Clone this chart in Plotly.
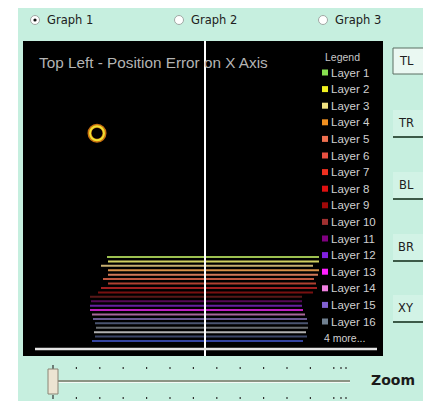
import plotly.graph_objects as go

# ---------------- data ----------------
layer_names = [f"Layer {i}" for i in range(1, 17)]
legend_colors = ["#88e050", "#f0f020", "#f0e080", "#f09020", "#f07050", "#e85040",
                 "#f03020", "#e01010", "#a00808", "#a03030", "#800080", "#8020e0",
                 "#ff20ff", "#f080e0", "#8060d0", "#708090"]
more_label = "4 more..."

# 20 layers: horizontal extent of the X position error per layer
layer_index = list(range(1, 21))
err_start = [-0.98, -0.97, -1.04, -0.97, -0.97, -1.02, -0.97, -1.04, -1.07, -1.15,
             -1.14, -1.15, -1.15, -1.13, -1.12, -1.10, -1.09, -1.11, -1.10, -1.13]
err_end = [1.14, 1.14, 1.08, 1.14, 1.13, 1.09, 1.11, 1.12, 1.08, 0.97,
           0.97, 0.97, 0.98, 1.00, 1.02, 1.03, 1.03, 1.01, 1.02, 0.98]
line_colors = ["#9cc050", "#d0d060", "#c8b070", "#d89048", "#d07858", "#c05840",
               "#b04030", "#a02020", "#781010", "#581818", "#560856", "#6620a0",
               "#c020c0", "#a86898", "#685890", "#4a5470", "#686c70", "#b0b0b0",
               "#3c4668", "#3444a0"]

marker_x = [-1.08]
marker_y = [-27.0]

title_text = "Top Left - Position Error on X Axis"
radio_labels = ["Graph 1", "Graph 2", "Graph 3"]
button_labels = ["TL", "TR", "BL", "BR", "XY"]
zoom_label = "Zoom"

# ---------------- geometry (page pixels) ----------------
W, H = 423, 401
L, R, T, B = 23, 383, 41, 356


def fx(p):
    return (p - L) / (R - L)


def fy(p):
    return (B - p) / (B - T)


fig = go.Figure()

for i, (y, a, b, c) in enumerate(zip(layer_index, err_start, err_end, line_colors)):
    fig.add_trace(go.Scatter(x=[a, b], y=[y, y], mode="lines",
                             line=dict(color=c, width=2), showlegend=False,
                             hoverinfo="skip"))

fig.add_trace(go.Scatter(x=marker_x, y=marker_y, mode="markers",
                         marker=dict(symbol="circle-open", size=15, color="#c87010",
                                     line=dict(width=4)),
                         showlegend=False, hoverinfo="skip"))
fig.add_trace(go.Scatter(x=marker_x, y=marker_y, mode="markers",
                         marker=dict(symbol="circle-open", size=14, color="#f0e030",
                                     line=dict(width=2)),
                         showlegend=False, hoverinfo="skip"))

shapes = []
ann = []

# white frame strips outside the mint panel
shapes.append(dict(type="rect", xref="paper", yref="paper", x0=fx(-5), x1=fx(18),
                   y0=fy(H + 5), y1=fy(-5), fillcolor="white", line=dict(width=0), layer="below"))
shapes.append(dict(type="rect", xref="paper", yref="paper", x0=fx(-5), x1=fx(W + 5),
                   y0=fy(8), y1=fy(-5), fillcolor="white", line=dict(width=0), layer="below"))

# vertical zero line
shapes.append(dict(type="line", xref="x", yref="paper", x0=0, x1=0, y0=0, y1=1,
                   line=dict(color="white", width=2), layer="above"))
# bottom baseline
shapes.append(dict(type="line", xref="paper", yref="paper", x0=fx(35), x1=fx(377),
                   y0=fy(349), y1=fy(349), line=dict(color="#e4e4e4", width=2.5), layer="above"))

# title
ann.append(dict(text=title_text, xref="paper", yref="paper", x=fx(37), y=fy(63),
                xanchor="left", yanchor="middle", showarrow=False,
                font=dict(family="Liberation Sans", size=15.3, color="#b4b4b4")))

# legend
ann.append(dict(text="Legend", xref="paper", yref="paper", x=fx(342), y=fy(57),
                xanchor="center", yanchor="middle", showarrow=False,
                font=dict(family="Liberation Sans", size=10.5, color="#c8c8c8")))
step = 16.6
for i, (name, col) in enumerate(zip(layer_names, legend_colors)):
    yc = 72.5 + i * step
    shapes.append(dict(type="rect", xref="paper", yref="paper", x0=fx(322), x1=fx(328),
                       y0=fy(yc + 3), y1=fy(yc - 3), fillcolor=col, line=dict(width=0)))
    ann.append(dict(text=name, xref="paper", yref="paper", x=fx(329), y=fy(yc),
                    xanchor="left", yanchor="middle", showarrow=False,
                    font=dict(family="Liberation Sans", size=11.5, color="#d0d0d0")))
ann.append(dict(text=more_label, xref="paper", yref="paper", x=fx(322), y=fy(72.5 + 16 * step),
                xanchor="left", yanchor="middle", showarrow=False,
                font=dict(family="Liberation Sans", size=10.5, color="#d0d0d0")))

# radio buttons
radio_cx = [35, 179, 323]
for k, (lab, cx) in enumerate(zip(radio_labels, radio_cx)):
    shapes.append(dict(type="circle", xref="paper", yref="paper",
                       x0=fx(cx - 4.5), x1=fx(cx + 4.5), y0=fy(20 + 4.5), y1=fy(20 - 4.5),
                       fillcolor="white", line=dict(color="#a0a8a4", width=1)))
    if k == 0:
        shapes.append(dict(type="circle", xref="paper", yref="paper",
                           x0=fx(cx - 1.6), x1=fx(cx + 1.6), y0=fy(20 + 1.6), y1=fy(20 - 1.6),
                           fillcolor="#101010", line=dict(width=0)))
    ann.append(dict(text=lab, xref="paper", yref="paper", x=fx(cx + 10), y=fy(20),
                    xanchor="left", yanchor="middle", showarrow=False,
                    font=dict(family="DejaVu Sans", size=11.5, color="#202020")))

# right-hand buttons
btn_y = [61, 123, 185, 247, 308]
for k, (lab, yc) in enumerate(zip(button_labels, btn_y)):
    if k == 0:
        shapes.append(dict(type="rect", xref="paper", yref="paper", x0=fx(393), x1=fx(430),
                           y0=fy(74), y1=fy(48), fillcolor="#eaf8f2",
                           line=dict(color="#5a6e62", width=1)))
    else:
        shapes.append(dict(type="rect", xref="paper", yref="paper", x0=fx(393), x1=fx(430),
                           y0=fy(yc + 13), y1=fy(yc - 13), fillcolor="#d2f3e6",
                           line=dict(width=0)))
        shapes.append(dict(type="line", xref="paper", yref="paper", x0=fx(393), x1=fx(430),
                           y0=fy(yc + 14), y1=fy(yc + 14),
                           line=dict(color="#3c5a48", width=2)))
    ann.append(dict(text=lab, xref="paper", yref="paper", x=fx(406), y=fy(yc),
                    xanchor="center", yanchor="middle", showarrow=False,
                    font=dict(family="DejaVu Sans", size=11.5, color="#202020")))

# slider
tick_x = [53 + k * 23.4 for k in range(13)] + [341, 346]
for k, tx in enumerate(tick_x):
    h = 4 if k == 0 else 2
    shapes.append(dict(type="line", xref="paper", yref="paper", x0=fx(tx), x1=fx(tx),
                       y0=fy(369), y1=fy(369 - h), line=dict(color="#303030", width=1.2)))
    shapes.append(dict(type="line", xref="paper", yref="paper", x0=fx(tx), x1=fx(tx),
                       y0=fy(399), y1=fy(397 - (h - 2)), line=dict(color="#303030", width=1.2)))
shapes.append(dict(type="line", xref="paper", yref="paper", x0=fx(56), x1=fx(350),
                   y0=fy(381), y1=fy(381), line=dict(color="#8c9484", width=2)))
shapes.append(dict(type="line", xref="paper", yref="paper", x0=fx(56), x1=fx(350),
                   y0=fy(382.5), y1=fy(382.5), line=dict(color="#f4faf6", width=1)))
shapes.append(dict(type="rect", xref="paper", yref="paper", x0=fx(48), x1=fx(58),
                   y0=fy(394), y1=fy(369), fillcolor="#ece4d2",
                   line=dict(color="#8a8474", width=1)))
ann.append(dict(text="<b>" + zoom_label + "</b>", xref="paper", yref="paper", x=fx(369), y=fy(380),
                xanchor="left", yanchor="middle", showarrow=False,
                font=dict(family="DejaVu Sans", size=14, color="#1a1a1a")))

px_per_layer = 4.42
y_top = 1 - (257 - T) / px_per_layer
y_bot = 20 + (B - 341) / px_per_layer
x_left = (L - 205) / 100.0
x_right = (R - 205) / 100.0

fig.update_layout(
    width=W, height=H,
    margin=dict(l=L, r=W - R, t=T, b=H - B, pad=0),
    paper_bgcolor="#c6efdf",
    plot_bgcolor="#000000",
    showlegend=False,
    hovermode=False,
    xaxis=dict(range=[x_left, x_right], visible=False, fixedrange=True),
    yaxis=dict(range=[y_bot, y_top], visible=False, fixedrange=True),
    shapes=shapes,
    annotations=ann,
)

fig.write_html("out.html", config={"displayModeBar": False},
               post_script="document.body.style.margin='0';document.body.style.overflow='hidden';")
